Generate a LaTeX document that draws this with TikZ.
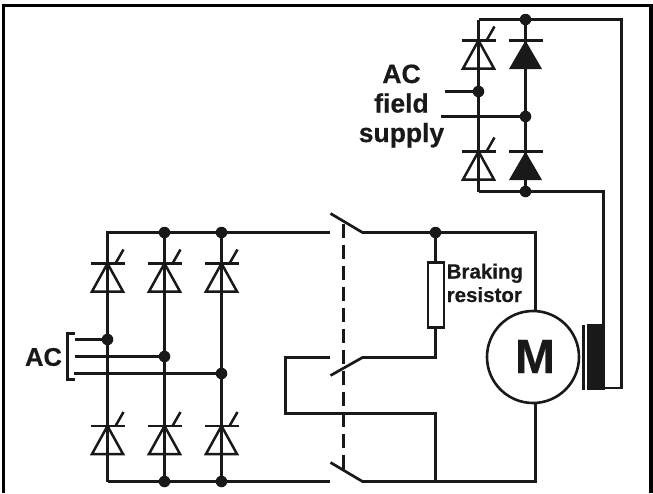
\documentclass[tikz,border=0pt]{standalone}
\usepackage{fontspec}
\setmainfont{Liberation Sans}[BoldFeatures={FakeBold=0.4}]
\tikzset{
  wire/.style={line width=2.7pt,draw=black!90,line join=miter},
  heavy wire/.style={line width=3pt,draw=black!90},
  thin wire/.style={line width=2.2pt,draw=black!90},
  thy/.style={line width=2.5pt,draw=black!90,line join=miter},
  dot/.style={circle,fill=black!90,inner sep=0pt,minimum size=11.5pt},
  lab/.style={font=\bfseries,align=center,inner sep=0pt,text=black!90},
  pics/thyristor/.style={code={
    \draw[thy] (-17,0) -- (17,0);
    \draw[thy] (0,0) -- (-15.5,28) -- (15.5,28) -- cycle;
    \draw[thy] (8,0) -- (16,-14);
  }},
  pics/diodeblack/.style={code={
    \draw[thy] (-17,0) -- (17,0);
    \fill[black!90] (0,0) -- (-16.5,28.5) -- (16.5,28.5) -- cycle;
  }},
}
\begin{document}
\begin{tikzpicture}[x=1pt,y=-1pt]
\useasboundingbox (0,0) rectangle (653,493);
\fill[white] (0,0) rectangle (653,493);
% frame
\draw[line width=3.6pt,black] (3.5,493) -- (3.5,5.5) -- (651,5.5) -- (651,493);
\begin{scope}[shift={(0.5,0.5)}]
% coordinates
\coordinate (a1) at (107,232); \coordinate (a2) at (164,232); \coordinate (a3) at (221,232);
\coordinate (b1) at (107,481); \coordinate (b2) at (164,481); \coordinate (b3) at (221,481);
\coordinate (swAl) at (329,232); \coordinate (swAr) at (362,232); \coordinate (swAt) at (330,213);
\coordinate (swBl) at (329,357); \coordinate (swBr) at (362,357); \coordinate (swBt) at (330,375);
\coordinate (swCl) at (329,481); \coordinate (swCr) at (362,481); \coordinate (swCt) at (330,462);
\coordinate (tr) at (535,232); \coordinate (br) at (535,481); \coordinate (mid) at (435,481);
\coordinate (g1) at (107,339); \coordinate (g2) at (164,356); \coordinate (g3) at (221,373);
\coordinate (i1) at (74,339); \coordinate (i2) at (74,356); \coordinate (i3) at (73,373);
\coordinate (t1) at (478,19); \coordinate (t2) at (525,19); \coordinate (t3) at (621,19);
\coordinate (u1) at (478,191); \coordinate (u2) at (525,191); \coordinate (u3) at (603,191);
\coordinate (f1) at (478,91); \coordinate (f2) at (525,116);
% main bridge wires
\draw[wire] (b1) -- (a1) -- (swAl);
\draw[heavy wire] (a2) -- (b2);
\draw[heavy wire] (a3) -- (b3);
\draw[wire] (b1) -- (swCl);
\draw[wire] (i1) -- (g1);
\draw[wire] (i2) -- (g2);
\draw[wire] (i3) -- (g3);
\draw[thin wire,line cap=square] (74,333) -- (67,333) -- (67,379) -- (74,379);
% thyristors
\foreach \x in {107,164,221} {
  \pic at (\x,263) {thyristor};
  \pic at (\x,425.5) {thyristor};
}
% switches
\draw[wire] (swAt) -- (swAr) -- (tr) -- (535,311);
\draw[wire] (swBt) -- (swBr) -- (435,357) -- (435,327);
\draw[heavy wire] (435,232) -- (435,262);
\draw[wire] (swCt) -- (swCr) -- (br) -- (535,402);
\draw[wire] (swBl) -- (285,357) -- (285,413) -- (435,413) -- (mid);
\draw[line width=3.4pt,black!90,dash pattern=on 14pt off 7pt] (343,223) -- (343,468);
% resistor
\node[draw=black!90,line width=2.2pt,fill=white,minimum width=16pt,minimum height=65pt,inner sep=0pt] (rb) at (435.5,294.5) {};
% motor
\node[circle,draw=black!90,line width=2.6pt,fill=white,minimum size=92pt,inner sep=0pt] (mot) at (532.5,356.5) {};
\node[lab,font=\fontsize{48}{48}\selectfont\bfseries] (mtxt) at (534.5,356) {M};
% field winding
\fill[black!90] (581,324) rectangle (584,389);
\fill[black!90] (586,323.5) rectangle (604,389);
\draw[wire] (u1) -- (u3) -- (603,325);
\draw[wire] (t1) -- (t3) -- (621,387.5) -- (603,387.5);
% field bridge
\draw[wire] (t1) -- (u1);
\draw[heavy wire] (t2) -- (u2);
\draw[wire] (444,91) -- (f1);
\draw[wire] (440,116) -- (f2);
\pic at (478,40) {thyristor};
\pic at (478,151) {thyristor};
\pic at (525,40) {diodeblack};
\pic at (525,151) {diodeblack};
% junctions
\foreach \n/\p in {d1/{a2},d2/{a3},d3/{b2},d4/{b3},d5/{g1},d6/{g2},d7/{g3},d8/{t2},d9/{u2},d10/{f1},d11/{f2}} {
  \node[dot] (\n) at (\p) {};
}
\node[dot] (d12) at (435,232) {};
\end{scope}
% labels
\node[lab,font=\fontsize{25.5}{26}\selectfont\bfseries] (lac) at (43.5,357) {AC};
\node[lab,font=\fontsize{26.5}{29.5}\selectfont\bfseries,anchor=base] (lfs) at (401.5,142) {AC\\field\\supply};
\node[lab,font=\fontsize{20.5}{23.5}\selectfont\bfseries,align=left,anchor=base west] (lbr) at (446.5,302) {Braking\\resistor};
\end{tikzpicture}
\end{document}
